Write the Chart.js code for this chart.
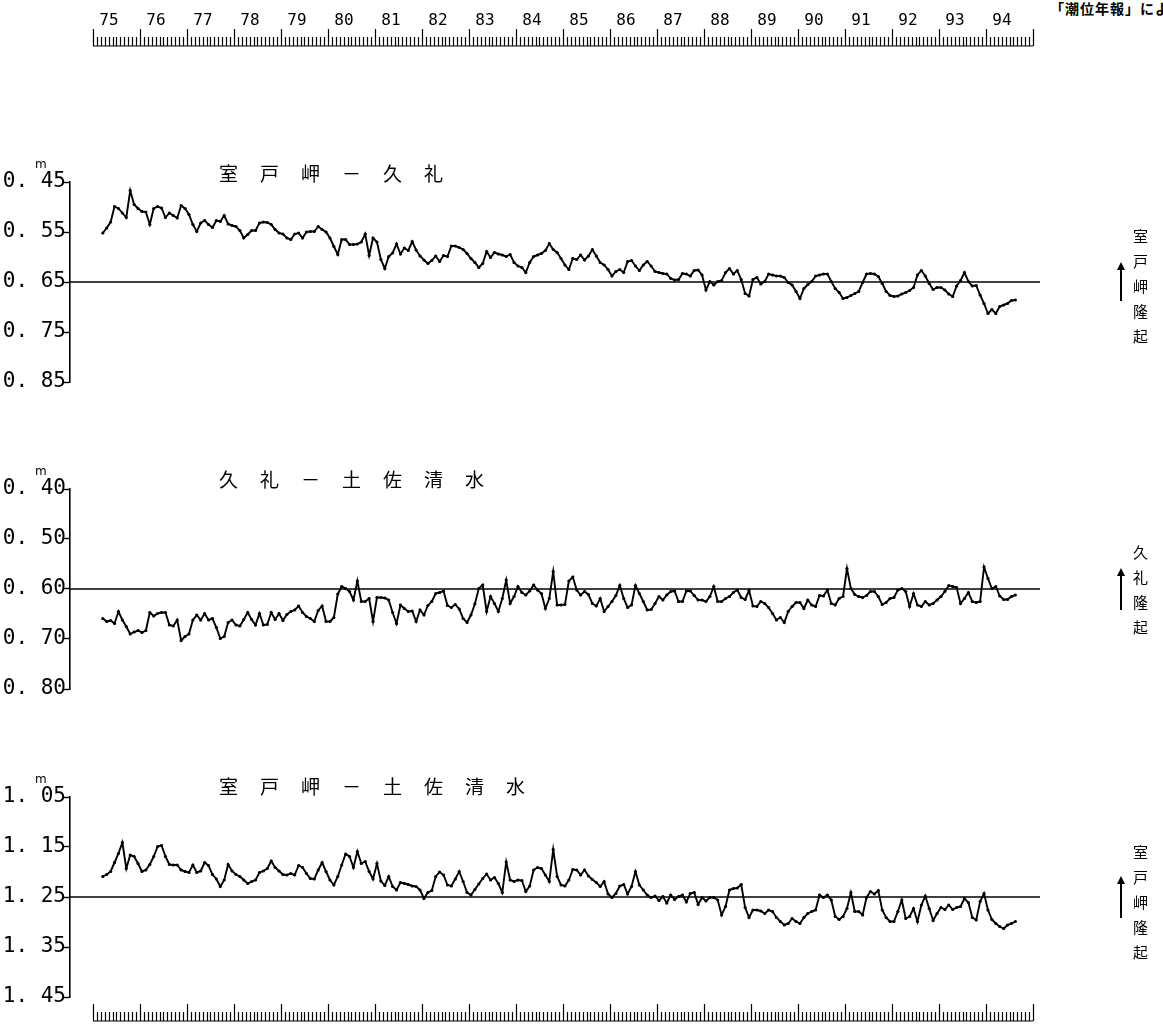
<!DOCTYPE html>
<html>
<head>
<meta charset="utf-8">
<title>室戸岬・久礼・土佐清水 潮位差</title>
<script src="https://cdn.jsdelivr.net/npm/chart.js"></script>
<style>
body{margin:0;background:#fff;overflow:hidden}
#page{position:relative;width:1163px;height:1030px;overflow:hidden;background:#fff}
canvas{position:absolute;left:0}
.ttl{position:absolute;left:219px;font-family:"Noto Sans CJK JP";font-size:19px;line-height:19px;letter-spacing:22px;white-space:nowrap;color:#000}
.unit{position:absolute;left:35px;font-family:"DejaVu Sans";font-size:12px;line-height:12px;color:#000}
.side{position:absolute;left:1133px;font-family:"Noto Sans CJK JP";font-size:15px;line-height:15px;letter-spacing:10px;writing-mode:vertical-rl;color:#000}
.arr{position:absolute;left:1120px;width:2px;background:#000}
.arr:before{content:"";position:absolute;left:-3px;top:-8px;border-left:4px solid transparent;border-right:4px solid transparent;border-bottom:8px solid #000}
.note{position:absolute;left:1050px;top:0;font-family:"Noto Sans CJK JP";font-size:14px;line-height:16px;letter-spacing:1px;font-weight:bold;white-space:nowrap}
</style>
</head>
<body>
<div id="page">
  <div class="note">「潮位年報」による</div>
  <canvas id="c1" width="1163" height="420" style="top:0px"></canvas>
  <canvas id="c2" width="1163" height="320" style="top:420px"></canvas>
  <canvas id="c3" width="1163" height="290" style="top:740px"></canvas>

  <div class="ttl" style="top:163px">室戸岬－久礼</div>
  <div class="ttl" style="top:469px">久礼－土佐清水</div>
  <div class="ttl" style="top:776px">室戸岬－土佐清水</div>

  <div class="unit" style="top:158px">m</div>
  <div class="unit" style="top:465px">m</div>
  <div class="unit" style="top:773px">m</div>

  <div class="side" style="top:229px">室戸岬隆起</div>
  <div class="side" style="top:545px">久礼隆起</div>
  <div class="side" style="top:845px">室戸岬隆起</div>
  <div class="arr" style="top:270px;height:31px"></div>
  <div class="arr" style="top:576px;height:34px"></div>
  <div class="arr" style="top:884px;height:34px"></div>
</div>
<script>
// 月平均潮位差 (m), 1975年3月から1994年8月まで
var startYear = 1975;
var startMonth = 3;
var years = [1975,1976,1977,1978,1979,1980,1981,1982,1983,1984,
             1985,1986,1987,1988,1989,1990,1991,1992,1993,1994];

//###########################室戸岬 - 久礼###########################//
var murotoKure = [
  0.552,0.542,0.530,0.499,0.503,0.512,0.521,0.467,0.495,0.503,
  0.509,0.510,0.535,0.503,0.499,0.502,0.521,0.512,0.517,0.522,
  0.497,0.503,0.515,0.535,0.549,0.532,0.527,0.535,0.541,0.527,
  0.529,0.517,0.534,0.537,0.539,0.547,0.562,0.555,0.547,0.547,
  0.532,0.530,0.531,0.535,0.545,0.552,0.554,0.562,0.565,0.554,
  0.552,0.562,0.550,0.549,0.549,0.539,0.545,0.550,0.562,0.579,
  0.595,0.565,0.565,0.575,0.575,0.574,0.570,0.554,0.597,0.562,
  0.570,0.605,0.623,0.599,0.592,0.574,0.594,0.582,0.587,
  0.569,0.586,0.598,0.606,0.613,0.607,0.598,0.609,0.597,0.599,
  0.578,0.578,0.581,0.585,0.593,0.603,0.611,0.621,0.613,0.589,
  0.601,0.591,0.594,0.596,0.599,0.595,0.611,0.618,0.621,0.631,
  0.611,0.599,0.596,0.593,0.587,0.573,0.585,0.591,0.603,0.616,
  0.625,0.603,0.605,0.596,0.606,0.598,0.585,0.598,0.611,0.616,
  0.625,0.638,0.629,0.625,0.631,0.609,0.607,0.618,0.627,0.616,
  0.609,0.618,0.629,0.631,0.633,0.634,0.643,0.646,0.645,0.633,
  0.634,0.638,0.627,0.626,0.636,0.666,0.649,0.656,0.649,
  0.647,0.631,0.623,0.634,0.627,0.645,0.673,0.678,0.645,0.641,
  0.654,0.649,0.634,0.636,0.638,0.638,0.641,0.651,0.656,0.669,
  0.683,0.663,0.655,0.649,0.638,0.636,0.634,0.634,0.649,0.663,
  0.671,0.683,0.681,0.677,0.673,0.669,0.651,0.634,0.633,0.634,
  0.639,0.653,0.669,0.677,0.679,0.678,0.674,0.671,0.667,0.661,
  0.636,0.627,0.638,0.653,0.665,0.661,0.661,0.666,0.674,0.679,
  0.658,0.647,0.631,0.649,0.658,0.657,0.676,0.693,0.713,0.705,
  0.713,0.699,0.696,0.693,0.687,0.686
];

//###########################久礼 - 土佐清水###########################//
var kureTosa = [
  0.659,0.665,0.663,0.669,0.645,0.662,0.675,0.690,0.686,0.683,
  0.687,0.683,0.647,0.654,0.649,0.647,0.647,0.672,0.674,0.662,
  0.703,0.695,0.690,0.662,0.652,0.662,0.649,0.662,0.659,0.677,
  0.699,0.695,0.667,0.662,0.672,0.674,0.661,0.647,0.661,0.672,
  0.649,0.672,0.671,0.647,0.661,0.649,0.663,0.651,0.645,0.642,
  0.634,0.647,0.655,0.659,0.665,0.643,0.634,0.665,0.665,0.657,
  0.610,0.595,0.599,0.605,0.622,0.584,0.625,0.625,0.619,0.665,
  0.617,0.617,0.618,0.622,0.647,0.669,0.632,0.639,0.645,
  0.644,0.665,0.642,0.652,0.633,0.625,0.609,0.607,0.604,0.633,
  0.637,0.631,0.640,0.659,0.667,0.652,0.630,0.599,0.592,0.645,
  0.615,0.629,0.645,0.619,0.582,0.629,0.615,0.595,0.607,0.612,
  0.604,0.592,0.602,0.609,0.639,0.619,0.565,0.632,0.632,0.631,
  0.584,0.576,0.602,0.612,0.605,0.611,0.629,0.634,0.619,0.645,
  0.635,0.625,0.613,0.593,0.619,0.637,0.632,0.593,0.609,0.625,
  0.642,0.641,0.629,0.615,0.622,0.612,0.605,0.604,0.625,0.625,
  0.604,0.604,0.613,0.622,0.622,0.625,0.615,0.595,0.625,
  0.625,0.619,0.615,0.607,0.602,0.617,0.621,0.603,0.634,0.635,
  0.625,0.629,0.637,0.649,0.662,0.657,0.667,0.645,0.635,0.627,
  0.627,0.639,0.622,0.632,0.635,0.613,0.614,0.602,0.629,0.632,
  0.619,0.615,0.559,0.599,0.611,0.615,0.617,0.613,0.605,0.605,
  0.615,0.631,0.627,0.619,0.617,0.602,0.599,0.605,0.635,0.609,
  0.632,0.635,0.625,0.632,0.629,0.622,0.615,0.605,0.593,0.595,
  0.597,0.629,0.619,0.607,0.625,0.627,0.625,0.556,0.579,0.599,
  0.595,0.614,0.621,0.621,0.615,0.612
];

//###########################室戸岬 - 土佐清水###########################//
var murotoTosa = [
  1.209,1.205,1.199,1.181,1.163,1.141,1.193,1.166,1.169,1.183,
  1.199,1.196,1.185,1.169,1.149,1.147,1.169,1.185,1.186,1.186,
  1.196,1.199,1.201,1.186,1.201,1.198,1.181,1.187,1.205,1.214,
  1.229,1.216,1.185,1.198,1.205,1.209,1.216,1.223,1.219,1.216,
  1.201,1.198,1.193,1.178,1.191,1.198,1.205,1.206,1.203,1.206,
  1.187,1.191,1.203,1.213,1.214,1.196,1.181,1.199,1.216,1.226,
  1.209,1.186,1.164,1.169,1.191,1.159,1.183,1.179,1.199,1.214,
  1.183,1.218,1.227,1.209,1.229,1.236,1.221,1.223,1.225,
  1.228,1.229,1.236,1.253,1.241,1.237,1.209,1.200,1.206,1.226,
  1.228,1.214,1.199,1.219,1.241,1.246,1.235,1.224,1.213,1.204,
  1.216,1.211,1.223,1.241,1.180,1.216,1.219,1.216,1.217,1.239,
  1.228,1.196,1.191,1.193,1.206,1.219,1.155,1.209,1.226,1.228,
  1.216,1.195,1.196,1.206,1.196,1.208,1.215,1.221,1.229,1.219,
  1.244,1.251,1.243,1.228,1.225,1.244,1.229,1.199,1.226,1.236,
  1.246,1.251,1.248,1.257,1.249,1.262,1.246,1.255,1.249,1.246,
  1.260,1.243,1.241,1.265,1.251,1.258,1.251,1.251,1.256,
  1.286,1.269,1.236,1.233,1.232,1.225,1.271,1.291,1.276,1.276,
  1.278,1.283,1.276,1.279,1.291,1.299,1.306,1.303,1.293,1.299,
  1.303,1.291,1.283,1.279,1.276,1.246,1.251,1.246,1.256,1.289,
  1.295,1.289,1.273,1.241,1.279,1.279,1.286,1.251,1.239,1.244,
  1.237,1.276,1.291,1.299,1.299,1.279,1.256,1.293,1.289,1.273,
  1.299,1.266,1.248,1.273,1.297,1.283,1.271,1.275,1.266,1.275,
  1.271,1.269,1.253,1.261,1.291,1.296,1.259,1.243,1.276,1.295,
  1.303,1.309,1.313,1.306,1.303,1.299
];

var ticksMK = [0.45, 0.55, 0.65, 0.75, 0.85];
var ticksKT = [0.40, 0.50, 0.60, 0.70, 0.80];
var ticksMT = [1.05, 1.15, 1.25, 1.35, 1.45];
var baseMK = 0.65;
var baseKT = 0.60;
var baseMT = 1.25;

// x軸は年 (1975 が x=93px, 1年 47px)
var xMin = 1975 - 23 / 47;
var xMax = 1975 + 947 / 47;

function toPoints(arr) {
  return arr.map(function(v, i) {
    return { x: startYear + (startMonth - 1 + i + 0.5) / 12, y: v };
  });
}

// 上下の年目盛 (月ごとの刻み)
var rulerPlugin = {
  id: 'ruler',
  afterDraw: function(chart, args, opts) {
    if (!opts || !opts.y) return;
    var ctx = chart.ctx;
    var xs = chart.scales.x;
    var first = years[0];
    var last = years[years.length - 1] + 1;
    ctx.save();
    ctx.strokeStyle = '#000';
    ctx.lineWidth = 1.2;
    ctx.beginPath();
    ctx.moveTo(xs.getPixelForValue(first), opts.y);
    ctx.lineTo(xs.getPixelForValue(last), opts.y);
    for (var m = 0; m <= (last - first) * 12; m++) {
      var px = Math.round(xs.getPixelForValue(first + m / 12)) + 0.5;
      var len = (m % 12 === 0) ? 17 : 9;
      ctx.moveTo(px, opts.y);
      ctx.lineTo(px, opts.y - len);
    }
    ctx.stroke();
    if (opts.labels) {
      ctx.fillStyle = '#000';
      ctx.font = '16px "DejaVu Sans Mono"';
      ctx.textAlign = 'center';
      ctx.textBaseline = 'middle';
      years.forEach(function(yr) {
        ctx.fillText(String(yr).slice(2), xs.getPixelForValue(yr) + 16, opts.labelY);
      });
    }
    ctx.restore();
  }
};

function makePanel(id, values, yTicks, base, padTop, padBottom, ruler) {
  var ctx = document.getElementById(id);
  return new Chart(ctx, {
    type: 'line',
    data: {
      datasets: [
        {
          data: toPoints(values),
          borderColor: '#000',
          borderWidth: 1.9,
          pointRadius: 1.6,
          pointBackgroundColor: '#000',
          pointBorderWidth: 0,
          tension: 0
        },
        {
          data: [{ x: xMin, y: base }, { x: xMax, y: base }],
          borderColor: '#000',
          borderWidth: 1.4,
          pointRadius: 0
        }
      ]
    },
    options: {
      responsive: false,
      animation: false,
      events: [],
      layout: { padding: { top: padTop, bottom: padBottom, left: 0, right: 123 } },
      plugins: {
        legend: { display: false },
        tooltip: { enabled: false },
        ruler: ruler || {}
      },
      scales: {
        x: { type: 'linear', min: xMin, max: xMax, display: false },
        y: {
          min: yTicks[0],
          max: yTicks[yTicks.length - 1],
          reverse: true,
          afterFit: function(s) { s.width = 70; },
          afterBuildTicks: function(s) {
            s.ticks = yTicks.map(function(v) { return { value: v }; });
          },
          grid: { drawOnChartArea: false, drawTicks: true, tickLength: 7, tickColor: '#000', tickWidth: 1.4 },
          border: { display: true, color: '#000', width: 1.6 },
          ticks: {
            padding: -3,
            color: '#000',
            font: { family: '"DejaVu Sans Mono"', size: 21 },
            callback: function(v) { return v.toFixed(2).replace('.', '. '); }
          }
        }
      }
    },
    plugins: [rulerPlugin]
  });
}

makePanel('c1', murotoKure, ticksMK, baseMK, 182, 38, { y: 46, labelY: 21, labels: true });
makePanel('c2', kureTosa, ticksKT, baseKT, 69, 51);
makePanel('c3', murotoTosa, ticksMT, baseMT, 57, 33, { y: 281, labels: false });
</script>
</body>
</html>
